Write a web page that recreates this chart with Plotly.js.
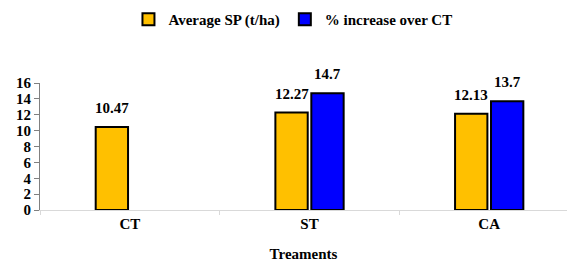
<!DOCTYPE html>
<html>
<head>
<meta charset="utf-8">
<script src="https://cdn.plot.ly/plotly-3.0.1.min.js"></script>
<style>html,body{margin:0;padding:0;background:#fff;}</style>
</head>
<body>
<div id="chart" style="width:567px;height:262px;"></div>
<script>
const categories = ['CT', 'ST', 'CA'];
const averageSP = [10.47, 12.27, 12.13];
const pctIncrease = [null, 14.7, 13.7];
const seriesNames = ['<b>Average SP (t/ha)</b>', '<b>% increase over CT</b>'];

const fontBase = {family: 'Liberation Serif', size: 15, color: '#000'};
const b = s => '<b>' + s + '</b>';

const traces = [
  {type: 'bar', name: seriesNames[0], x: categories, y: averageSP,
   marker: {color: '#FFC000', line: {color: '#000', width: 2}}},
  {type: 'bar', name: seriesNames[1], x: categories, y: pctIncrease,
   marker: {color: '#0000FF', line: {color: '#000', width: 2}}}
];

const annotations = [];
[averageSP, pctIncrease].forEach((vals, i) => {
  vals.forEach((v, j) => {
    if (v === null) return;
    annotations.push({x: categories[j], y: v, text: b(String(v)), showarrow: false,
      xshift: i === 0 ? -18 : 18, yshift: 19, yanchor: 'middle', font: fontBase});
  });
});

const layout = {
  width: 567, height: 262,
  margin: {l: 40, r: 0, t: 83, b: 52},
  paper_bgcolor: '#fff', plot_bgcolor: '#fff',
  font: fontBase,
  barmode: 'group', bargap: 0.6, bargroupgap: 0.1,
  showlegend: true,
  legend: {orientation: 'h', x: 0.48, xanchor: 'center', y: 1.5, yanchor: 'middle',
           font: fontBase, itemwidth: 30, tracegroupgap: 0},
  annotations: annotations,
  xaxis: {range: [-0.5, 2.433], showline: true, linecolor: '#d9d9d9', linewidth: 1,
          ticks: 'outside', tickson: 'boundaries', ticklen: 4, tickcolor: '#d9d9d9',
          showgrid: false, zeroline: false, tickfont: fontBase,
          tickvals: categories, ticktext: categories.map(b),
          title: {text: b('Treaments'), font: fontBase, standoff: 20}},
  yaxis: {range: [0, 16], dtick: 2, showline: true, linecolor: '#808080', linewidth: 1,
          ticks: 'outside', ticklen: 5, tickcolor: '#808080', showgrid: false, zeroline: false,
          tickfont: fontBase, tickprefix: '<b>', ticksuffix: '</b>'}
};

Plotly.newPlot('chart', traces, layout, {displayModeBar: false, staticPlot: true});
</script>
</body>
</html>
